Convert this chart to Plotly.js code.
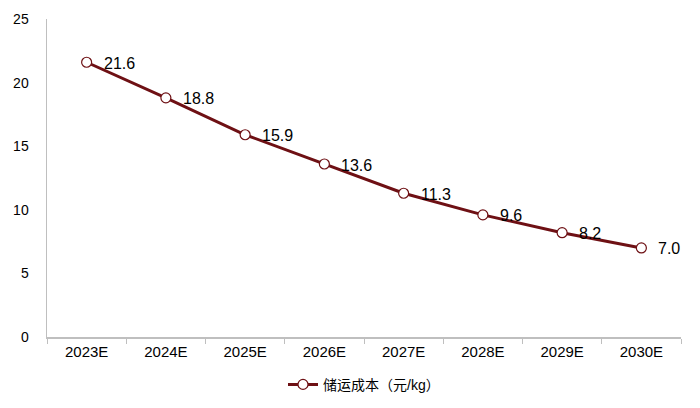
<!DOCTYPE html>
<html><head><meta charset="utf-8">
<script src="https://cdn.plot.ly/plotly-3.0.1.min.js"></script>
<style>body{margin:0;}#chart{width:700px;height:408px;}</style>
</head><body><div id="chart"></div>
<script>
const categories = ["2023E","2024E","2025E","2026E","2027E","2028E","2029E","2030E"];
const costValues = [21.6, 18.8, 15.9, 13.6, 11.3, 9.6, 8.2, 7.0];
const seriesName = "储运成本（元/kg）";
const yTicks = [0, 5, 10, 15, 20, 25];

const font = "Liberation Sans, Arial, 'Noto Sans CJK SC', sans-serif";
const lineColor = "#6E1014";
const trace = {
  x: categories, y: costValues, name: seriesName, type: "scatter",
  mode: "lines+markers",
  line: {color: lineColor, width: 3},
  marker: {symbol: "circle", size: 10, color: "#fff", line: {color: lineColor, width: 1.2}},
  cliponaxis: false
};
const annotations = categories.map((c, i) => ({
  x: c, y: costValues[i], xref: "x", yref: "y",
  text: costValues[i].toFixed(1), showarrow: false,
  xanchor: "left", yanchor: "middle", xshift: 15, yshift: -1,
  font: {family: font, size: 16, color: "#000"}
}));
const layout = {
  width: 700, height: 408,
  margin: {l: 47, r: 19, t: 19, b: 71, autoexpand: false},
  paper_bgcolor: "#fff", plot_bgcolor: "#fff",
  font: {family: font, size: 14, color: "#000"},
  showlegend: true,
  legend: {orientation: "h", x: 0.5, xanchor: "center", y: -0.1, yanchor: "top", font: {family: font, size: 14}},
  annotations: annotations,
  xaxis: {
    type: "category", showgrid: false, zeroline: false,
    showline: true, linecolor: "#BFBFBF", linewidth: 1.5,
    ticks: "outside", ticklen: 5, tickcolor: "#BFBFBF", tickson: "boundaries",
    range: [-0.5, 7.5], tickfont: {family: font, size: 15}
  },
  yaxis: {
    range: [0, 25], tickvals: yTicks, showgrid: false, zeroline: false,
    showline: true, linecolor: "#BFBFBF", linewidth: 1.5, ticks: "", ticklabelstandoff: 14,
    tickfont: {family: font, size: 14}
  }
};
Plotly.newPlot("chart", [trace], layout, {displayModeBar: false, staticPlot: true});
</script></body></html>
